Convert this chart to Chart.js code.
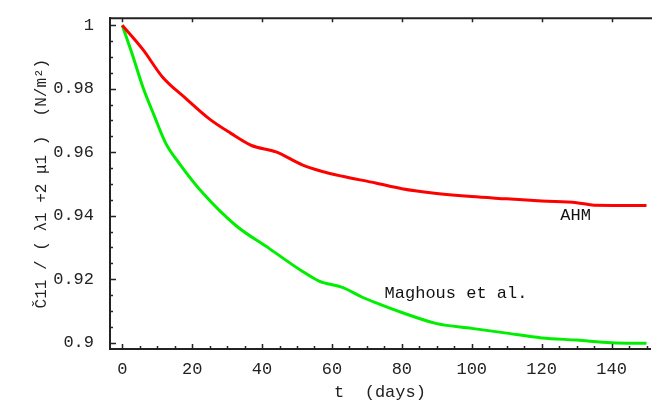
<!DOCTYPE html>
<html>
<head>
<meta charset="utf-8">
<script src="https://cdn.jsdelivr.net/npm/chart.js@4/dist/chart.umd.min.js"></script>
<style>
  html, body { margin: 0; padding: 0; background: #fff; }
  #wrap { width: 652px; height: 407px; }
</style>
</head>
<body>
<div id="wrap"><canvas id="plot"></canvas></div>
<script>
/* =================================================================
    data
================================================================= */

var ahmT = [0, 6, 11.5, 18, 25, 31, 37, 44, 51.5, 57, 63, 72.5, 80, 90, 100, 110, 120, 130, 135, 150];
var ahmV = [1.0, 0.9922, 0.9837, 0.9771, 0.9704, 0.966, 0.9621, 0.9601, 0.956, 0.954, 0.9524, 0.9503, 0.9485, 0.947, 0.946, 0.9453, 0.9446, 0.9441, 0.9433, 0.9432];

var maghousT = [0, 3, 6, 9, 12.5, 16.3, 23, 32.5, 42, 51.5, 56.3, 63, 68.7, 73.2, 80, 90, 100, 110, 120, 130, 140, 150];
var maghousV = [1.0, 0.9904, 0.9802, 0.9719, 0.9627, 0.9565, 0.9472, 0.9369, 0.9297, 0.9225, 0.9194, 0.9174, 0.9143, 0.9123, 0.9095, 0.906, 0.9045, 0.903, 0.9015, 0.9008, 0.9, 0.8998];

var xTicks = [0, 20, 40, 60, 80, 100, 120, 140];
var yTicks = [0.9, 0.92, 0.94, 0.96, 0.98, 1];
var xMinor = [0, 5, 10, 15, 20, 25, 30, 35, 40, 45, 50, 55, 60, 65, 70, 75, 80, 85, 90, 95, 100, 105, 110, 115, 120, 125, 130, 135, 140, 145, 150];
var yMinor = [0.9, 0.905, 0.91, 0.915, 0.92, 0.925, 0.93, 0.935, 0.94, 0.945, 0.95, 0.955, 0.96, 0.965, 0.97, 0.975, 0.98, 0.985, 0.99, 0.995, 1];

var labels = [
    { text: "AHM", x: 129.7, y: 0.9401 },
    { text: "Maghous et al.", x: 95.5, y: 0.9154 }
];

function toPoints(xs, ys) {
    return xs.map(function (x, i) { return { x: x, y: ys[i] }; });
}

var monoFont = "'Liberation Mono', 'DejaVu Sans Mono', monospace";

/* =================================================================
    frame, inward ticks and curve labels
================================================================= */

var framePlugin = {
    id: 'frame',
    afterDraw: function (chart) {
        var c = chart.ctx;
        var a = chart.chartArea;
        var xs = chart.scales.x;
        var ys = chart.scales.y;
        c.save();
        c.strokeStyle = '#222';
        c.lineWidth = 2;
        c.beginPath();
        c.moveTo(a.left, a.top);
        c.lineTo(652, a.top);
        c.stroke();

        c.lineWidth = 1.5;
        c.beginPath();
        xMinor.forEach(function (v) {
            var px = Math.round(xs.getPixelForValue(v)) + 0.5;
            var len = xTicks.indexOf(v) >= 0 ? 5 : 3;
            c.moveTo(px, a.bottom);
            c.lineTo(px, a.bottom - len);
        });
        xTicks.forEach(function (v) {
            var px = Math.round(xs.getPixelForValue(v)) + 0.5;
            c.moveTo(px, a.top);
            c.lineTo(px, a.top + 4);
        });
        yMinor.forEach(function (v) {
            var py = Math.round(ys.getPixelForValue(v)) + 0.5;
            var len = yTicks.indexOf(v) >= 0 ? 6 : 3;
            c.moveTo(a.left, py);
            c.lineTo(a.left + len, py);
        });
        c.stroke();

        c.fillStyle = '#111';
        c.font = '17px ' + monoFont;
        c.textAlign = 'center';
        c.textBaseline = 'middle';
        labels.forEach(function (l) {
            c.fillText(l.text, xs.getPixelForValue(l.x), ys.getPixelForValue(l.y));
        });
        c.restore();
    }
};

var ctx = document.getElementById("plot");

var myChart = new Chart(ctx, {
    type: 'line',
    data: {
        datasets: [{
            label: 'AHM',
            data: toPoints(ahmT, ahmV),
            borderColor: '#ff0000',
            borderWidth: 3,
            pointRadius: 0,
            cubicInterpolationMode: 'monotone',
            fill: false
        }, {
            label: 'Maghous et al.',
            data: toPoints(maghousT, maghousV),
            borderColor: '#00ee00',
            borderWidth: 3,
            pointRadius: 0,
            cubicInterpolationMode: 'monotone',
            fill: false
        }]
    },
    options: {
        responsive: true,
        maintainAspectRatio: false,
        animation: false,
        events: [],
        layout: { padding: { top: 12, right: 2, left: 0, bottom: 0 } },
        plugins: {
            legend: { display: false },
            tooltip: { enabled: false }
        },
        scales: {
            x: {
                type: 'linear',
                min: -3.5,
                max: 151,
                grid: { display: false },
                border: { display: true, color: '#222', width: 2 },
                afterBuildTicks: function (scale) {
                    scale.ticks = xTicks.map(function (v) { return { value: v }; });
                },
                afterFit: function (scale) { scale.height = 58; },
                ticks: {
                    color: '#222',
                    font: { family: monoFont, size: 17 },
                    padding: 2,
                    maxRotation: 0,
                    autoSkip: false,
                    callback: function (v) { return String(v); }
                },
                title: {
                    display: true,
                    text: 't  (days)',
                    color: '#222',
                    font: { family: monoFont, size: 17 },
                    padding: { top: 0, bottom: 4 }
                }
            },
            y: {
                type: 'linear',
                min: 0.898,
                max: 1.0022,
                grid: { display: false },
                border: { display: true, color: '#222', width: 2 },
                afterBuildTicks: function (scale) {
                    scale.ticks = yTicks.map(function (v) { return { value: v }; });
                },
                afterFit: function (scale) { scale.width = 110; },
                ticks: {
                    color: '#222',
                    font: { family: monoFont, size: 17 },
                    padding: 8,
                    autoSkip: false,
                    callback: function (v) { return String(v); }
                },
                title: {
                    display: true,
                    text: 'Č11 / ( λ1 +2 μ1 )  (N/m²)',
                    color: '#222',
                    font: { family: monoFont, size: 16 },
                    padding: { top: 32, bottom: 0 }
                }
            }
        }
    },
    plugins: [framePlugin]
});
</script>
</body>
</html>
